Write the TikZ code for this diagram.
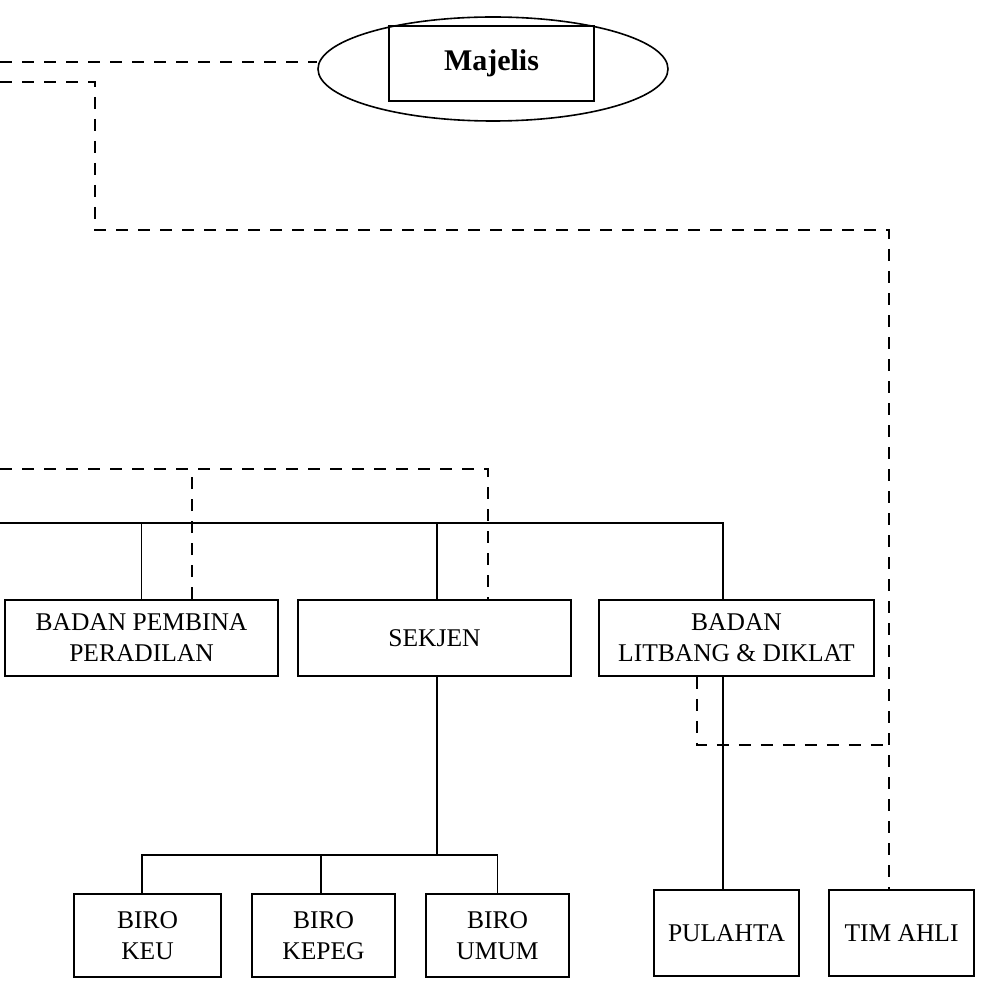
\documentclass[tikz,border=0pt]{standalone}
\usepackage{fontspec}
\setmainfont{Liberation Serif}
\usetikzlibrary{shapes.geometric}
\tikzset{
  box/.style={draw, line width=1.6pt, rectangle, inner sep=0pt, align=center,
    font=\fontsize{25.5}{31}\selectfont},
  solidln/.style={line width=1.8pt},
  dsh/.style={line width=1.8pt, dash pattern=on 12pt off 10pt},
}
\begin{document}
\begin{tikzpicture}[x=1pt,y=-1pt]
\useasboundingbox (0,0) rectangle (981,981);
% top
\node[draw, ellipse, line width=1.6pt, minimum width=350pt, minimum height=104pt, inner sep=0pt] (maj) at (493,69) {};
\node[box, minimum width=205pt, minimum height=75pt, font=\fontsize{30}{34}\selectfont\bfseries] (majbox) at (491.5,63.5) {Majelis};
% second row
\node[box, minimum width=273pt, minimum height=76pt] (bpp) at (141.5,638) {BADAN PEMBINA\\PERADILAN};
\node[box, minimum width=273pt, minimum height=76pt] (sek) at (434.5,638) {SEKJEN};
\node[box, minimum width=275pt, minimum height=76pt] (lit) at (736.5,638) {BADAN\\LITBANG \& DIKLAT};
% bottom row
\node[box, minimum width=147pt, minimum height=83pt] (keu) at (147.5,935.5) {BIRO\\KEU};
\node[box, minimum width=143pt, minimum height=83pt] (kep) at (323.5,935.5) {BIRO\\KEPEG};
\node[box, minimum width=143pt, minimum height=83pt] (umu) at (497.5,935.5) {BIRO\\UMUM};
\node[box, minimum width=145pt, minimum height=86pt] (pul) at (726.5,933) {PULAHTA};
\node[box, minimum width=145pt, minimum height=86pt] (tim) at (901.5,933) {TIM AHLI};
% free ends and corners
\coordinate (d1) at (0,62);
\coordinate (d2) at (0,82);
\coordinate (d2a) at (95,82);
\coordinate (d2b) at (95,230);
\coordinate (d3) at (0,469);
\coordinate (bus) at (0,523);
\coordinate (sb) at (434.5,855);
\coordinate (lj) at (697,745);
% solid connectors
\draw[solidln] (bus) -| ([xshift=-13.5pt]lit.north);
\draw[solidln] (bpp.north) -- (bpp.north |- bus);
\draw[solidln] ([xshift=2.5pt]sek.north) -- ([xshift=2.5pt]sek.north |- bus);
\draw[solidln] ([xshift=2.5pt]sek.south) -- ([xshift=2.5pt]sek.south |- sb);
\draw[solidln] ([xshift=-5.5pt]keu.north) |- (sb) -| (umu.north);
\draw[solidln] ([xshift=-2.5pt]kep.north) -- ([xshift=-2.5pt]kep.north |- sb);
\draw[solidln] ([xshift=-3.5pt]pul.north) -- ([xshift=-3.5pt]pul.north |- lit.south);
% dashed connectors
\draw[dsh] (d1) -- (maj.west |- d1);
\draw[dsh] (d2) -- (d2a) -- (d2b) -| ([xshift=-12.5pt]tim.north);
\draw[dsh] (d3) -| ([xshift=53.5pt]sek.north);
\draw[dsh] ([xshift=50.5pt]bpp.north) -- ([xshift=50.5pt]bpp.north |- d3);
\draw[dsh] ([xshift=-39.5pt]lit.south) |- ([xshift=-12.5pt]tim.north |- lj);
\end{tikzpicture}
\end{document}
